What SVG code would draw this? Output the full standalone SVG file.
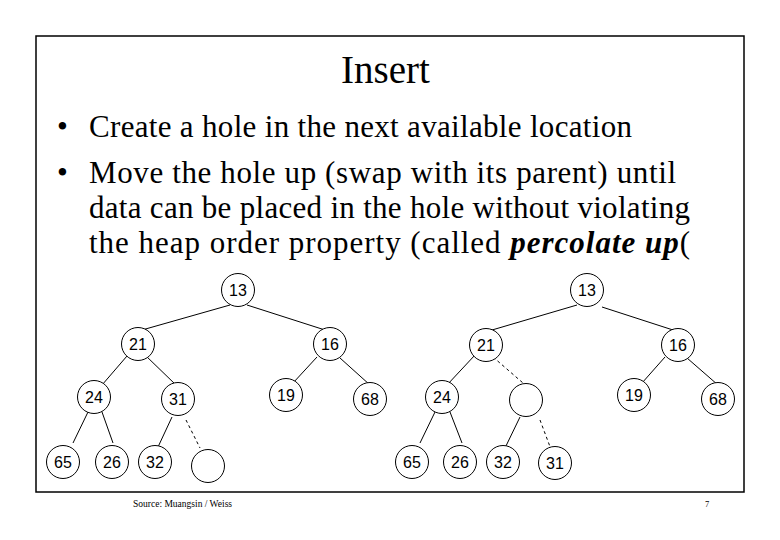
<svg xmlns="http://www.w3.org/2000/svg" width="780" height="540" viewBox="0 0 780 540">
<style>
.t{font-family:"Liberation Serif","Times New Roman",serif;fill:#000}
.n circle{fill:#fff;stroke:#000;stroke-width:1}
.n text{font-family:"Liberation Sans",Arial,sans-serif;font-size:16px;text-anchor:middle;fill:#000}
.e line{stroke:#000;stroke-width:1}
.e line.d{stroke-dasharray:3 3}
</style>
<rect x="0" y="0" width="780" height="540" fill="#fff"/>
<rect x="36" y="36" width="708" height="456" fill="none" stroke="#000" stroke-width="1.5"/>
<text class="t" x="385.5" y="83" font-size="39" text-anchor="middle">Insert</text>
<g class="t" font-size="31">
<text x="57" y="137">•</text>
<text x="89" y="137" textLength="543">Create a hole in the next available location</text>
<text x="57" y="183">•</text>
<text x="89" y="183" textLength="587">Move the hole up (swap with its parent) until</text>
<text x="89" y="218" textLength="601">data can be placed in the hole without violating</text>
<text x="89" y="253" textLength="601">the heap order property (called <tspan font-weight="bold" font-style="italic">percolate up</tspan>(</text>
</g>
<g class="e" id="connectors">
<line x1="230" y1="305" x2="142" y2="330"/>
<line x1="247" y1="305" x2="325" y2="330"/>
<line x1="127" y1="356" x2="102" y2="385"/>
<line x1="145" y1="355" x2="176" y2="385"/>
<line x1="317" y1="357" x2="293" y2="383"/>
<line x1="340" y1="358" x2="370" y2="385"/>
<line x1="88" y1="412" x2="73" y2="443"/>
<line x1="102" y1="412" x2="113" y2="443"/>
<line x1="172" y1="417" x2="158" y2="447"/>
<line class="d" x1="186" y1="420" x2="200" y2="448"/>
<line x1="577" y1="305" x2="492" y2="330"/>
<line x1="602" y1="307" x2="673" y2="330"/>
<line x1="475" y1="355" x2="447" y2="385"/>
<line class="d" x1="493" y1="357" x2="523" y2="383"/>
<line x1="665" y1="357" x2="642" y2="383"/>
<line x1="687" y1="358" x2="718" y2="385"/>
<line x1="435" y1="412" x2="420" y2="443"/>
<line x1="450" y1="412" x2="462" y2="443"/>
<line x1="520" y1="417" x2="505" y2="448"/>
<line class="d" x1="540" y1="420" x2="552" y2="452"/>
</g>
<g class="n" id="L13"><circle cx="238" cy="290" r="16.5"/><text x="238" y="296">13</text></g>
<g class="n" id="L21"><circle cx="138" cy="344" r="16.5"/><text x="138" y="350">21</text></g>
<g class="n" id="L16"><circle cx="330" cy="344" r="16.5"/><text x="330" y="350">16</text></g>
<g class="n" id="L24"><circle cx="94" cy="397" r="16.5"/><text x="94" y="403">24</text></g>
<g class="n" id="L31"><circle cx="178" cy="399" r="16.5"/><text x="178" y="405">31</text></g>
<g class="n" id="L19"><circle cx="286" cy="395" r="16.5"/><text x="286" y="401">19</text></g>
<g class="n" id="L68"><circle cx="370" cy="399" r="16.5"/><text x="370" y="405">68</text></g>
<g class="n" id="L65"><circle cx="63" cy="462" r="16.5"/><text x="63" y="468">65</text></g>
<g class="n" id="L26"><circle cx="112" cy="462" r="16.5"/><text x="112" y="468">26</text></g>
<g class="n" id="L32"><circle cx="155" cy="462" r="16.5"/><text x="155" y="468">32</text></g>
<g class="n" id="Lhole"><circle cx="208" cy="466" r="16.5"/></g>
<g class="n" id="R13"><circle cx="587" cy="290" r="16.5"/><text x="587" y="296">13</text></g>
<g class="n" id="R21"><circle cx="486" cy="345" r="16.5"/><text x="486" y="351">21</text></g>
<g class="n" id="R16"><circle cx="678" cy="345" r="16.5"/><text x="678" y="351">16</text></g>
<g class="n" id="R24"><circle cx="442" cy="397" r="16.5"/><text x="442" y="403">24</text></g>
<g class="n" id="Rhole"><circle cx="526" cy="400" r="16.5"/></g>
<g class="n" id="R19"><circle cx="634" cy="395" r="16.5"/><text x="634" y="401">19</text></g>
<g class="n" id="R68"><circle cx="718" cy="399" r="16.5"/><text x="718" y="405">68</text></g>
<g class="n" id="R65"><circle cx="412" cy="462" r="16.5"/><text x="412" y="468">65</text></g>
<g class="n" id="R26"><circle cx="460" cy="462" r="16.5"/><text x="460" y="468">26</text></g>
<g class="n" id="R32"><circle cx="503" cy="462" r="16.5"/><text x="503" y="468">32</text></g>
<g class="n" id="R31"><circle cx="555" cy="463" r="16.5"/><text x="555" y="469">31</text></g>
<text class="t" x="133" y="507" font-size="9.5">Source: Muangsin / Weiss</text>
<text class="t" x="705" y="507" font-size="8.5">7</text>
</svg>
